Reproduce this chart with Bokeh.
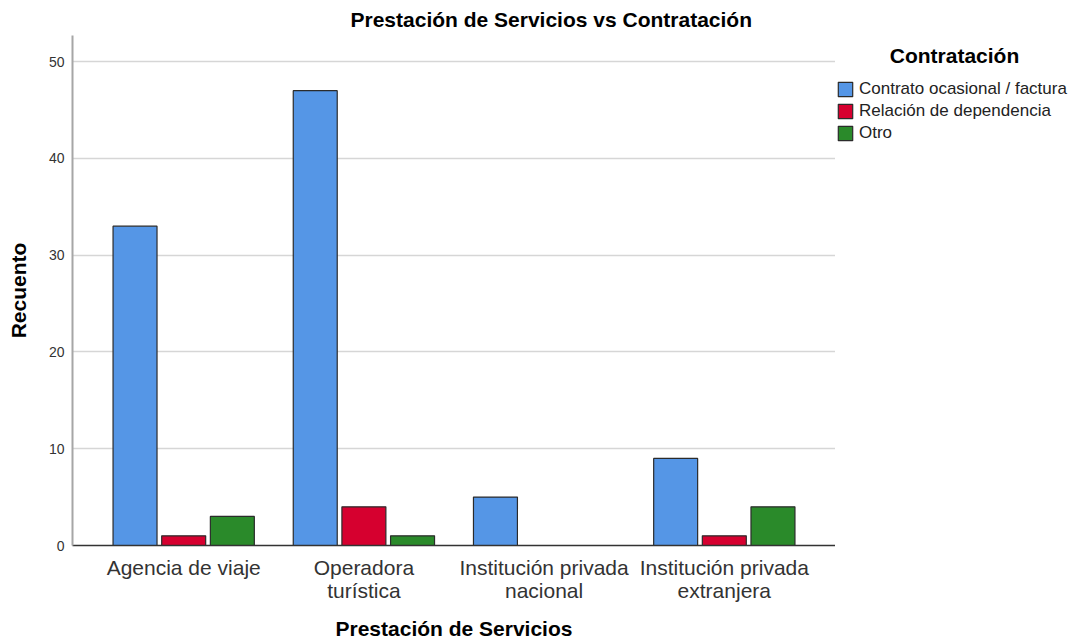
from bokeh.plotting import figure
from bokeh.layouts import row
from bokeh.models import (ColumnDataSource, FactorRange, Range1d, Legend, LegendItem,
                          FixedTicker, Label)
from bokeh.transform import dodge
from bokeh.embed import file_html
from bokeh.resources import INLINE

categories = ["Agencia de viaje", "Operadora\nturística",
              "Institución privada\nnacional", "Institución privada\nextranjera"]
contrato = [33, 47, 5, 9]
relacion = [1, 4, 0, 1]
otro = [3, 1, 0, 4]
series_names = ["Contrato ocasional / factura", "Relación de dependencia", "Otro"]
legend_title = "Contratación"
y_ticks = [0, 10, 20, 30, 40, 50]

FONT = "Liberation Sans"
colors = ["#5596E6", "#D6002F", "#2A8A2A"]
fields = ["contrato", "relacion", "otro"]
offsets = [-0.27, 0.0, 0.27]

src = ColumnDataSource(dict(cat=categories, contrato=contrato, relacion=relacion, otro=otro))

TOP, BOTTOM = 35, 97

# ---------------- main chart ----------------
p = figure(width=835, height=642, output_backend="svg", toolbar_location=None,
           x_range=FactorRange(factors=categories, range_padding=0.117, range_padding_units="absolute"),
           y_range=Range1d(0, 52.7),
           title="Prestación de Servicios vs Contratación",
           min_border_left=72, min_border_right=0, min_border_top=TOP, min_border_bottom=BOTTOM)

p.title.align = "left"
p.title.offset = 278
p.title.text_font = FONT
p.title.text_font_size = "21px"
p.title.text_font_style = "bold"
p.title.text_color = "#000000"
p.title.standoff = 10

for f, off, c in zip(fields, offsets, colors):
    p.vbar(x=dodge("cat", off, range=p.x_range), top=f, width=0.244, source=src,
           fill_color=c, line_color="#2b2b2b", line_width=1.2)

p.outline_line_color = None
p.xgrid.grid_line_color = None
p.ygrid.grid_line_color = "#D6D6D6"
p.ygrid.grid_line_width = 1.5
p.yaxis.ticker = FixedTicker(ticks=y_ticks)

p.yaxis.axis_line_color = "#A6A6A6"
p.yaxis.axis_line_width = 2
p.yaxis.major_tick_line_color = None
p.yaxis.minor_tick_line_color = None
p.yaxis.major_tick_out = 0
p.yaxis.major_tick_in = 0
p.yaxis.major_label_standoff = 8
p.yaxis.major_label_text_font = FONT
p.yaxis.major_label_text_font_size = "14px"
p.yaxis.major_label_text_color = "#333333"
p.yaxis.axis_label = "Recuento"
p.yaxis.axis_label_text_font = FONT
p.yaxis.axis_label_text_font_size = "21px"
p.yaxis.axis_label_text_font_style = "bold"
p.yaxis.axis_label_text_color = "#000000"
p.yaxis.axis_label_standoff = 16

p.xaxis.axis_line_color = "#333333"
p.xaxis.axis_line_width = 1.5
p.xaxis.major_tick_line_color = None
p.xaxis.major_tick_out = 0
p.xaxis.major_tick_in = 0
p.xaxis.major_label_standoff = 10
p.xaxis.major_label_text_font = FONT
p.xaxis.major_label_text_font_size = "21px"
p.xaxis.major_label_text_color = "#333333"
p.xaxis.major_label_text_line_height = 1.0
p.xaxis.axis_label = "Prestación de Servicios"
p.xaxis.axis_label_text_font = FONT
p.xaxis.axis_label_text_font_size = "21px"
p.xaxis.axis_label_text_font_style = "bold"
p.xaxis.axis_label_text_color = "#000000"
p.xaxis.axis_label_standoff = 12

# ---------------- legend panel (pixel-like coordinates: x right, y down from frame top) ----------------
LG_W = 243
FRAME_H = 642 - TOP - BOTTOM
lg = figure(width=LG_W, height=642, output_backend="svg", toolbar_location=None,
            x_range=Range1d(0, LG_W), y_range=Range1d(FRAME_H, 0),
            x_axis_location=None, y_axis_location=None,
            min_border_left=0, min_border_right=0, min_border_top=TOP, min_border_bottom=BOTTOM)
lg.outline_line_color = None
lg.grid.visible = False

# legend proxies: categorical x on a numeric range -> nothing is drawn in this panel
proxies = []
for f, c in zip(fields, colors):
    proxies.append(lg.vbar(x="cat", top=f, width=0.1, source=src,
                           fill_color=c, line_color="#2b2b2b", line_width=1.2))

legend = Legend(items=[LegendItem(label=n, renderers=[r]) for n, r in zip(series_names, proxies)],
                location=(1, FRAME_H - 108))
legend.label_text_font = FONT
legend.label_text_font_size = "17px"
legend.label_text_color = "#222222"
legend.label_text_line_height = 1.0
legend.glyph_width = 18
legend.glyph_height = 18
legend.label_height = 18
legend.label_standoff = 5
legend.spacing = 2
legend.padding = 0
legend.margin = 0
legend.border_line_color = None
legend.background_fill_alpha = 0
lg.add_layout(legend, "center")

lg.add_layout(Label(x=119, y=20, text=legend_title, text_align="center", text_baseline="middle",
                    text_font=FONT, text_font_size="21px", text_font_style="bold",
                    text_color="#000000"))

layout = row(p, lg, spacing=0)
open("out.html", "w").write(file_html(layout, INLINE))
